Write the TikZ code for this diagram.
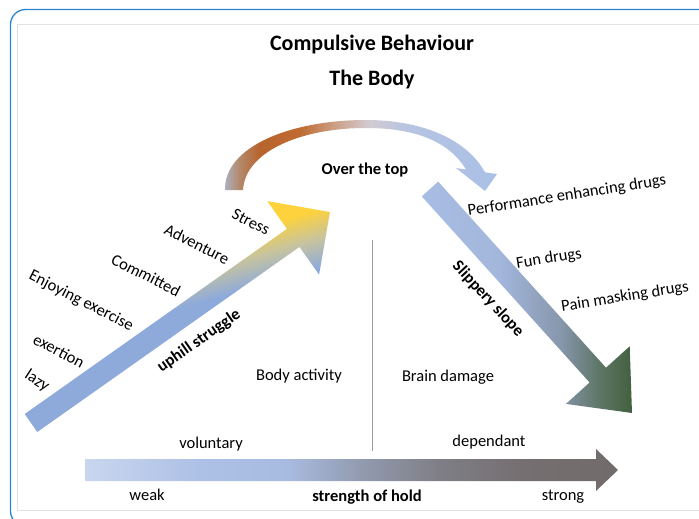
\documentclass[tikz,border=0pt]{standalone}
\usepackage{fontspec}
\setmainfont{Carlito}
\definecolor{frameblue}{RGB}{43,134,207}
\definecolor{framegray}{HTML}{E2E2E2}
% bottom arrow
\definecolor{hA}{HTML}{C9D6EE}
\definecolor{hB}{HTML}{ADC0E6}
\definecolor{hC}{HTML}{A7BADF}
\definecolor{hD}{HTML}{929BB0}
\definecolor{hE}{HTML}{7F7E86}
\definecolor{hF}{HTML}{756F71}
\definecolor{hG}{HTML}{716B6B}
% uphill arrow
\definecolor{uB}{HTML}{8EAADB}
\definecolor{uM}{HTML}{C8C49C}
\definecolor{uY}{HTML}{FDD23C}
% slippery arrow
\definecolor{sA}{HTML}{A8BDE3}
\definecolor{sB}{HTML}{A3B6DC}
\definecolor{sC}{HTML}{8797AD}
\definecolor{sD}{HTML}{5D7565}
\definecolor{sE}{HTML}{43603F}
% top band
\definecolor{tA}{HTML}{AAB3C6}
\definecolor{tB}{HTML}{B3896B}
\definecolor{tC}{HTML}{B8642E}
\definecolor{tD}{HTML}{BF6A30}
\definecolor{tE}{HTML}{CC9F85}
\definecolor{tF}{HTML}{D2CBD3}
\definecolor{tG}{HTML}{B6C4E1}
\definecolor{tH}{HTML}{A9C0E6}
\pgfdeclarehorizontalshading{holdshade}{100bp}{color(0bp)=(hA); color(25bp)=(hA); color(35.8bp)=(hB); color(44.2bp)=(hC); color(50.8bp)=(hD); color(58.3bp)=(hE); color(65.8bp)=(hF); color(75bp)=(hG); color(100bp)=(hG)}
\pgfdeclareverticalshading{upshade}{100bp}{color(0bp)=(uB); color(51.5bp)=(uB); color(57.5bp)=(uM); color(63bp)=(uY); color(100bp)=(uY)}
\pgfdeclarehorizontalshading{slipshade}{100bp}{color(0bp)=(sA); color(25bp)=(sA); color(43.6bp)=(sB); color(57.9bp)=(sC); color(67.4bp)=(sD); color(75bp)=(sE); color(100bp)=(sE)}
\pgfdeclarehorizontalshading{topshade}{100bp}{color(0bp)=(tA); color(25bp)=(tA); color(27.8bp)=(tB); color(31.4bp)=(tC); color(38.8bp)=(tD); color(45.2bp)=(tE); color(51.7bp)=(tF); color(59bp)=(tG); color(75bp)=(tH); color(100bp)=(tH)}
\begin{document}
\begin{tikzpicture}[x=1pt,y=-1pt,
  lbl/.style={font=\fontsize{16.5}{19}\selectfont, inner sep=0pt},
  boldlbl/.style={font=\fontsize{16.5}{19}\selectfont\bfseries, inner sep=0pt},
  titlelbl/.style={font=\fontsize{22}{26}\selectfont\bfseries, inner sep=0pt}]
\useasboundingbox (0,0) rectangle (699,519);
\clip (0,0) rectangle (699,519);
% frame
\draw[framegray, line width=1pt] (17.5,24.5) rectangle (720,510);
\draw[frameblue, line width=1.3pt, rounded corners=15pt] (720,9.5) -- (10.5,9.5) -- (10.5,526) -- (40,526);
% titles
\node[titlelbl] (t1) at (372,45) {Compulsive Behaviour};
\node[titlelbl] (t2) at (372,80) {The Body};
% top curved arrow
\shade[shading=topshade] (225,190) .. controls (224,146) and (292,120) .. (366,120)
  .. controls (420,120) and (466,138) .. (485,172.3)
  -- (497,174) -- (485,191) -- (456,168) -- (466,169.5)
  .. controls (450,143) and (418,128) .. (366,128)
  .. controls (300,128) and (245,152) .. (243,190) -- cycle;
\node[boldlbl] (over) at (365,170) {Over the top};
% uphill arrow
\shade[shading=upshade, shading angle=16] (37.3,432.0) -- (299.5,246.9) -- (319.1,274.7) -- (330,212)
  -- (267.3,201.1) -- (286.9,228.9) -- (24.7,414.0) -- cycle;
% slippery arrow
\shade[shading=slipshade] (438.2,181.6) -- (606.0,367.7) -- (629.7,346.3) -- (632,413)
  -- (565.9,403.9) -- (589.6,382.5) -- (421.8,196.4) -- cycle;
% bottom arrow
\shade[shading=holdshade] (85,459) -- (596,459) -- (596,449) -- (618,470) -- (596,491)
  -- (596,481) -- (85,481) -- cycle;
% divider
\coordinate (vtop) at (372,240);
\coordinate (vbot) at (372,451);
\draw[gray!80, line width=0.9pt] (vtop) -- (vbot);
% left labels
\node[lbl, rotate=-27] (stress) at (251,222) {Stress};
\node[lbl, rotate=-27] (adv) at (197,244) {Adventure};
\node[lbl, rotate=-27] (comm) at (146,275) {Committed};
\node[lbl, rotate=-27] (enj) at (81,301) {Enjoying exercise};
\node[lbl, rotate=-28] (exe) at (59,351) {exertion};
\node[lbl, rotate=-33] (lazy) at (37,381) {lazy};
\node[boldlbl, rotate=35] (uphill) at (199,341) {uphill struggle};
% right labels
\node[boldlbl, rotate=-47] (slip) at (488,299) {Slippery slope};
\node[lbl, rotate=9] (perf) at (567,196) {Performance enhancing drugs};
\node[lbl, rotate=9] (fun) at (549,259) {Fun drugs};
\node[lbl, rotate=9] (pain) at (625,297) {Pain masking drugs};
% middle labels
\node[lbl] (body) at (299,376) {Body activity};
\node[lbl] (brain) at (448,377) {Brain damage};
\node[lbl] (vol) at (211,444) {voluntary};
\node[lbl] (dep) at (489,442) {dependant};
\node[lbl] (weak) at (147,495) {weak};
\node[boldlbl] (hold) at (367,497) {strength of hold};
\node[lbl] (strong) at (563,497) {strong};
\end{tikzpicture}
\end{document}
